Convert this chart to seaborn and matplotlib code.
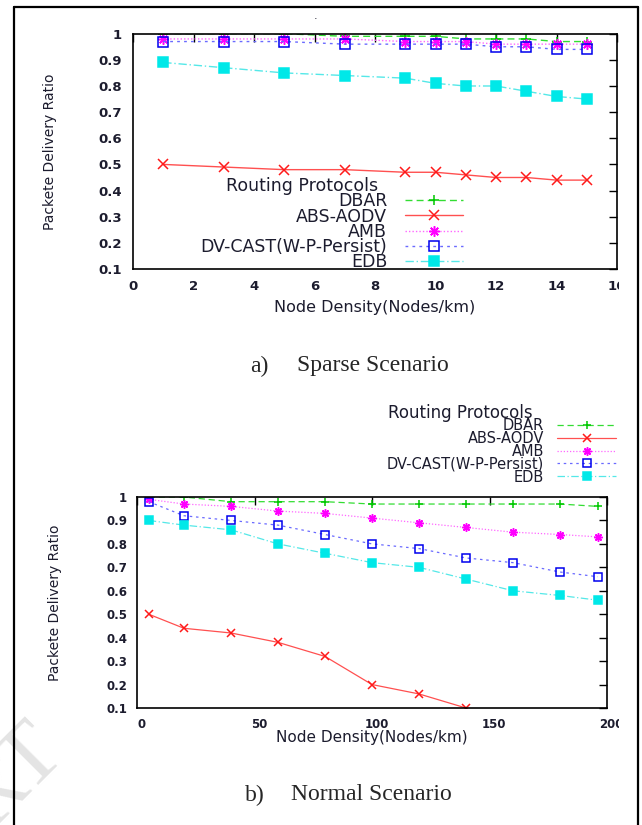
import numpy as np
import pandas as pd
import matplotlib
matplotlib.use("Agg")
import matplotlib.pyplot as plt
import seaborn as sns
from matplotlib.lines import Line2D
from matplotlib.transforms import Bbox, ScaledTranslation
from matplotlib.ticker import FuncFormatter

# ---------------- data ----------------
protocols = ["DBAR", "ABS-AODV", "AMB", "DV-CAST(W-P-Persist)", "EDB"]

sparse_x = [1, 3, 5, 7, 9, 10, 11, 12, 13, 14, 15]
sparse_dbar = [1.00, 1.00, 1.00, 0.99, 0.99, 0.99, 0.98, 0.98, 0.98, 0.97, 0.97]
sparse_abs = [0.50, 0.49, 0.48, 0.48, 0.47, 0.47, 0.46, 0.45, 0.45, 0.44, 0.44]
sparse_amb = [0.98, 0.98, 0.98, 0.98, 0.97, 0.97, 0.97, 0.96, 0.96, 0.96, 0.96]
sparse_dv = [0.97, 0.97, 0.97, 0.96, 0.96, 0.96, 0.96, 0.95, 0.95, 0.94, 0.94]
sparse_edb = [0.89, 0.87, 0.85, 0.84, 0.83, 0.81, 0.80, 0.80, 0.78, 0.76, 0.75]

normal_x = [5, 20, 40, 60, 80, 100, 120, 140, 160, 180, 196]
normal_dbar = [1.00, 1.00, 0.98, 0.98, 0.98, 0.97, 0.97, 0.97, 0.97, 0.97, 0.96]
normal_abs = [0.50, 0.44, 0.42, 0.38, 0.32, 0.20, 0.16, 0.10]
normal_amb = [0.99, 0.97, 0.96, 0.94, 0.93, 0.91, 0.89, 0.87, 0.85, 0.84, 0.83]
normal_dv = [0.98, 0.92, 0.90, 0.88, 0.84, 0.80, 0.78, 0.74, 0.72, 0.68, 0.66]
normal_edb = [0.90, 0.88, 0.86, 0.80, 0.76, 0.72, 0.70, 0.65, 0.60, 0.58, 0.56]

sparse_xticks = [0, 2, 4, 6, 8, 10, 12, 14, 16]
normal_xticks = [0, 50, 100, 150, 200]
yticks = [0.1, 0.2, 0.3, 0.4, 0.5, 0.6, 0.7, 0.8, 0.9, 1.0]

# ---------------- style ----------------
sns.set_style("white")
plt.rcParams["font.family"] = ["DejaVu Sans"]
plt.rcParams["xtick.direction"] = "in"
plt.rcParams["ytick.direction"] = "in"

TXT = "#1c1c2e"
W, H = 642, 825
fig = plt.figure(figsize=(W / 100, H / 100), dpi=100)
fig.patch.set_facecolor("white")

styles = {
    "DBAR": dict(color="#33dd33", mec="#00c800", mfc="none", marker="+", ls=(0, (5, 3))),
    "ABS-AODV": dict(color="#ff5050", mec="#ff1a1a", mfc="none", marker="x", ls="-"),
    "AMB": dict(color="#ff66ff", mec="#ff00ff", mfc="#ff00ff", marker=(8, 2, 0), ls=(0, (1, 1.5))),
    "DV-CAST(W-P-Persist)": dict(color="#6a6aff", mec="#0000ee", mfc="none", marker="s", ls=(0, (2, 3))),
    "EDB": dict(color="#55e8e8", mec="#00e8e8", mfc="#00e8e8", marker="s", ls=(0, (6, 2, 1, 2))),
}


def px_axes(l, t, r, b):
    return fig.add_axes([l / W, 1 - b / H, (r - l) / W, (b - t) / H])


def draw_series(ax, x, series, ms, lw):
    for name, y in zip(protocols, series):
        st = styles[name]
        sns.lineplot(x=x[:len(y)], y=y, ax=ax, color=st["color"], marker=st["marker"],
                     linestyle=st["ls"], markeredgecolor=st["mec"],
                     markerfacecolor=st["mfc"], markersize=ms, markeredgewidth=1.1,
                     linewidth=lw, errorbar=None, label=name)


def style_axes(ax, xticks, xlim, tick_fs, tick_pad, label_fs, xl_y, yl_x):
    ax.set_xlim(*xlim)
    ax.set_ylim(0.1, 1.0)
    ax.set_xticks(xticks)
    ax.set_yticks(yticks)
    ax.yaxis.set_major_formatter(FuncFormatter(lambda v, p: f"{v:g}"))
    ax.tick_params(axis="both", which="major", direction="in", length=6, width=1,
                   top=True, right=True, labelsize=tick_fs, pad=tick_pad,
                   labelcolor=TXT, color="black")
    for lab in ax.get_xticklabels() + ax.get_yticklabels():
        lab.set_fontweight("bold")
    for s in ax.spines.values():
        s.set_visible(True)
        s.set_color("black")
        s.set_linewidth(1.2)
    ax.set_xlabel("Node Density(Nodes/km)", fontsize=label_fs, color=TXT)
    ax.set_ylabel("Packete Delivery Ratio", fontsize=10, color=TXT)
    ax.xaxis.set_label_coords(0.5, xl_y)
    ax.yaxis.set_label_coords(yl_x, 0.5)
    ax.grid(False)


def make_legend(ax, fs, anchor, spacing, hlen, hpad, title_xy, title_fs):
    # markerfirst=False right-aligns the labels against the line samples (gnuplot key)
    leg = ax.legend(loc="upper right", bbox_to_anchor=anchor,
                    bbox_transform=fig.transFigure, frameon=False, markerfirst=False,
                    fontsize=fs, labelspacing=spacing,
                    handlelength=hlen, handletextpad=hpad, borderpad=0,
                    borderaxespad=0, numpoints=1)
    for t in leg.get_texts():
        t.set_color(TXT)
    fig.text(title_xy[0] / W, 1 - title_xy[1] / H, "Routing Protocols",
             fontsize=title_fs, color=TXT, ha="center", va="center")
    return leg


# faint publisher watermark in the lower-left corner (mostly outside the page)
fig.text(-28 / W, 1 - 818 / H, "IJERT", fontsize=64, family="Liberation Serif",
         color="#e4e4e4", rotation=45, ha="center", va="center", zorder=0)

# ---------------- top: sparse ----------------
ax1 = px_axes(133, 33.7, 617, 269)
draw_series(ax1, sparse_x, [sparse_dbar, sparse_abs, sparse_amb, sparse_dv, sparse_edb], 7.5, 1.0)
style_axes(ax1, sparse_xticks, (0, 16), 9.5, 8, 11.5, -0.13, -0.157)
leg1 = make_legend(ax1, 12.5, (463 / W, 1 - 192.5 / H), -0.17, 3.33, 1.03, (302, 186), 12.5)

# ---------------- bottom: normal ----------------
ax2 = px_axes(137, 497, 607, 708)
draw_series(ax2, normal_x, [normal_dbar, normal_abs, normal_amb, normal_dv, normal_edb], 6.0, 0.9)
style_axes(ax2, normal_xticks, (0, 200), 8.5, 7, 11, -0.105, -0.16)
leg2 = make_legend(ax2, 10.5, (616 / W, 1 - 417.7 / H), -0.14, 4.04, 0.89, (460, 413), 12)

# bottom x tick labels sit a few pixels right of their ticks in the original
shift = ScaledTranslation(4.5 / 100, 0, fig.dpi_scale_trans)
for lab in ax2.get_xticklabels():
    lab.set_transform(lab.get_transform() + shift)

# the original figures were cropped on the right: clip tick labels there
clip = Bbox.from_extents(0, 0, 619, H)
for ax in (ax1, ax2):
    for lab in ax.get_xticklabels():
        lab.set_clip_box(clip)
        lab.set_clip_on(True)

# captions
fig.text(250 / W, 1 - 366 / H, "a)", fontsize=17, family="Liberation Serif", va="center", ha="left")
fig.text(297 / W, 1 - 366 / H, "Sparse Scenario", fontsize=17, family="Liberation Serif", va="center", ha="left")
fig.text(245 / W, 1 - 795 / H, "b)", fontsize=17, family="Liberation Serif", va="center", ha="left")
fig.text(291 / W, 1 - 795 / H, "Normal Scenario", fontsize=17, family="Liberation Serif", va="center", ha="left")
fig.text(316 / W, 1 - 16 / H, ".", fontsize=8, color=TXT, ha="center", va="center")

# outer frame
for xs, ys in [((14, 14), (7, H + 5)), ((638, 638), (7, H + 5)), ((14, 638), (7, 7))]:
    fig.add_artist(Line2D([x / W for x in xs], [1 - y / H for y in ys],
                          transform=fig.transFigure, color="black", linewidth=1.6))

fig.savefig("out.png", dpi=100, facecolor="white")
